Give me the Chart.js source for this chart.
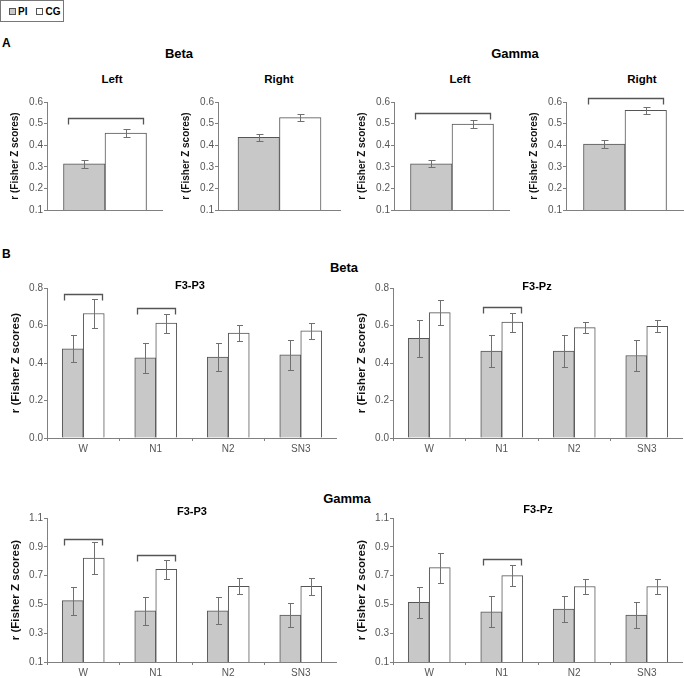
<!DOCTYPE html>
<html lang="en">
<head>
<meta charset="UTF-8">
<title>Fisher Z scores - Beta / Gamma</title>
<script src="https://cdn.jsdelivr.net/npm/chart.js@4.4.0/dist/chart.umd.min.js"></script>
<style>
    html, body { margin: 0; padding: 0; background: #fff; overflow: hidden; }
    body { position: relative; width: 684px; height: 678px; font-family: 'Liberation Sans', Arial, sans-serif; }
    canvas { position: absolute; }
    .lbl { position: absolute; transform: translate(-50%, -50%); font-weight: bold; white-space: nowrap; color: #000; }
    .letter { position: absolute; font-weight: bold; font-size: 12px; }
    .legend {
        position: absolute; left: 0; top: 0; width: 64px; height: 22px;
        border: 1px solid #777; font-size: 10px; font-weight: bold;
        display: flex; align-items: center; box-sizing: border-box; padding-left: 8px;
    }
    .sw { display: inline-block; width: 5px; height: 5px; border: 1px solid #555; margin-right: 2px; }
</style>
</head>
<body>
    <div class="legend"><span class="sw" style="background:#c8c8c8"></span>PI<span style="width:9px"></span><span class="sw"></span>CG</div>

    <div class="letter" style="left:2px; top:36px">A</div>
    <div class="letter" style="left:2px; top:247px">B</div>
    <div class="lbl" style="left:179px; top:53px; font-size:13px">Beta</div>
    <div class="lbl" style="left:515px; top:53px; font-size:13px">Gamma</div>
    <div class="lbl" style="left:344px; top:267px; font-size:13px">Beta</div>
    <div class="lbl" style="left:347px; top:498px; font-size:13px">Gamma</div>

    <div id="charts"></div>

<script>
    // ----- data -----
    const sideLabels = ['Left', 'Right'];
    const sideTicks = [0.1, 0.2, 0.3, 0.4, 0.5, 0.6];

    const betaSidePI = [0.314, 0.436];
    const betaSidePIErr = [0.018, 0.017];
    const betaSideCG = [0.456, 0.528];
    const betaSideCGErr = [0.017, 0.016];
    const betaSideBracket = [0.525, null];

    const gammaSidePI = [0.314, 0.405];
    const gammaSidePIErr = [0.017, 0.019];
    const gammaSideCG = [0.498, 0.561];
    const gammaSideCGErr = [0.017, 0.016];
    const gammaSideBracket = [0.548, 0.619];

    const stageLabels = ['W', 'N1', 'N2', 'SN3'];
    const betaTicks = [0.0, 0.2, 0.4, 0.6, 0.8];
    const gammaTicks = [0.1, 0.3, 0.5, 0.7, 0.9, 1.1];

    const betaP3PI = [0.476, 0.428, 0.432, 0.443];
    const betaP3PIErr = [0.073, 0.079, 0.077, 0.08];
    const betaP3CG = [0.664, 0.613, 0.56, 0.571];
    const betaP3CGErr = [0.08, 0.051, 0.042, 0.042];
    const betaP3Bracket = [0.77, 0.694, null, null];

    const betaPzPI = [0.531, 0.464, 0.464, 0.44];
    const betaPzPIErr = [0.098, 0.085, 0.083, 0.081];
    const betaPzCG = [0.669, 0.618, 0.589, 0.595];
    const betaPzCGErr = [0.069, 0.05, 0.029, 0.032];
    const betaPzBracket = [null, 0.697, null, null];

    const gammaP3PI = [0.526, 0.456, 0.456, 0.426];
    const gammaP3PIErr = [0.098, 0.097, 0.092, 0.083];
    const gammaP3CG = [0.822, 0.744, 0.625, 0.625];
    const gammaP3CGErr = [0.108, 0.067, 0.055, 0.06];
    const gammaP3Bracket = [0.956, 0.845, null, null];

    const gammaPzPI = [0.514, 0.449, 0.467, 0.426];
    const gammaPzPIErr = [0.108, 0.108, 0.09, 0.092];
    const gammaPzCG = [0.755, 0.70, 0.624, 0.624];
    const gammaPzCGErr = [0.103, 0.073, 0.052, 0.055];
    const gammaPzBracket = [null, 0.813, null, null];

    // ----- look -----
    const FONT = "'Liberation Sans', Arial, sans-serif";
    const axisGray = '#808080';
    const piFill = '#c8c8c8';
    const barEdge = '#555555';

    // error bars + significance brackets
    const errorBracketPlugin = {
        id: 'errorBrackets',
        afterDatasetsDraw(chart, args, opts) {
            const ctx = chart.ctx;
            const y = chart.scales.y;
            ctx.save();
            ctx.strokeStyle = '#707070';
            ctx.lineWidth = 1;
            chart.data.datasets.forEach((ds, i) => {
                chart.getDatasetMeta(i).data.forEach((bar, j) => {
                    const v = ds.data[j], e = ds.errors[j];
                    const x = Math.round(bar.x) + 0.5;
                    const yt = Math.round(y.getPixelForValue(v + e)) + 0.5;
                    const yb = Math.round(y.getPixelForValue(v - e)) + 0.5;
                    ctx.beginPath();
                    ctx.moveTo(x, yt); ctx.lineTo(x, yb);
                    ctx.moveTo(x - opts.cap, yt); ctx.lineTo(x + opts.cap + 1, yt);
                    ctx.moveTo(x - opts.cap, yb); ctx.lineTo(x + opts.cap + 1, yb);
                    ctx.stroke();
                });
            });
            const m0 = chart.getDatasetMeta(0), m1 = chart.getDatasetMeta(1);
            ctx.strokeStyle = '#555';
            ctx.lineWidth = 1.3;
            opts.brackets.forEach((b, j) => {
                if (b == null) return;
                const g = m0.data[j], w = m1.data[j];
                const x1 = Math.round(g.x - g.width / 2 + opts.inset) + 0.5;
                const x2 = Math.round(w.x + w.width / 2 - opts.inset) + 0.5;
                const yy = Math.round(y.getPixelForValue(b)) + 0.5;
                ctx.beginPath();
                ctx.moveTo(x1, yy + 6); ctx.lineTo(x1, yy); ctx.lineTo(x2, yy); ctx.lineTo(x2, yy + 6);
                ctx.stroke();
            });
            ctx.restore();
        }
    };

    function makeChart(p) {
        const canvas = document.createElement('canvas');
        canvas.width = p.box.w;
        canvas.height = p.box.h;
        canvas.style.left = p.box.x + 'px';
        canvas.style.top = p.box.y + 'px';
        document.getElementById('charts').appendChild(canvas);

        const t = document.createElement('div');
        t.className = 'lbl';
        t.textContent = p.title;
        t.style.left = p.titlePos[0] + 'px';
        t.style.top = p.titlePos[1] + 'px';
        t.style.fontSize = p.titleSize + 'px';
        document.body.appendChild(t);

        const yTicks = p.ticks;
        new Chart(canvas, {
            type: 'bar',
            data: {
                labels: p.labels,
                datasets: [
                    { label: 'PI', data: p.pi, errors: p.piErr, backgroundColor: piFill,
                      borderColor: barEdge, borderWidth: 1, barThickness: p.bar },
                    { label: 'CG', data: p.cg, errors: p.cgErr, backgroundColor: '#ffffff',
                      borderColor: barEdge, borderWidth: 1, barThickness: p.bar }
                ]
            },
            options: {
                responsive: false,
                animation: false,
                layout: { padding: { top: 10, bottom: p.showX ? 0 : 8, left: 0, right: 0 } },
                plugins: {
                    legend: { display: false },
                    tooltip: { enabled: false },
                    errorBrackets: { brackets: p.brackets, cap: p.cap, inset: p.inset }
                },
                scales: {
                    x: {
                        afterFit: s => { s.height = p.showX ? 22 : 0; },
                        border: { color: axisGray },
                        grid: { display: p.showX, drawOnChartArea: false, tickLength: 3, color: axisGray, offset: true },
                        ticks: { display: p.showX, padding: 2, color: '#555', font: { family: FONT, size: 10 } }
                    },
                    y: {
                        min: yTicks[0],
                        max: yTicks[yTicks.length - 1],
                        afterBuildTicks: s => { s.ticks = yTicks.map(v => ({ value: v })); },
                        afterFit: s => { s.width = 42; },
                        border: { color: axisGray },
                        grid: { drawOnChartArea: false, tickLength: 3, color: axisGray },
                        ticks: { padding: 1, color: '#555', font: { family: FONT, size: 10 },
                                 callback: v => Number(v).toFixed(1) },
                        title: { display: true, text: 'r (Fisher Z scores)', color: '#111',
                                 font: { family: FONT, size: p.axisTitleSize, weight: 'bold' },
                                 padding: { top: 4, bottom: 0 } }
                    }
                }
            },
            plugins: [errorBracketPlugin]
        });
    }

    const topCommon = { labels: [''], ticks: sideTicks, bar: 41.5, showX: false, cap: 3, inset: 4,
                        titleSize: 11.5, axisTitleSize: 10 };
    const botCommon = { labels: stageLabels, bar: 21, showX: true, cap: 2.5, inset: 2,
                        titleSize: 11, axisTitleSize: 11.5 };

    // Part A: one category per panel
    makeChart({ ...topCommon, title: sideLabels[0], titlePos: [112, 79], box: { x: 5, y: 92, w: 158, h: 126 },
        pi: [betaSidePI[0]], piErr: [betaSidePIErr[0]], cg: [betaSideCG[0]], cgErr: [betaSideCGErr[0]], brackets: [betaSideBracket[0]] });
    makeChart({ ...topCommon, title: sideLabels[1], titlePos: [279, 79], box: { x: 176, y: 92, w: 165, h: 126 },
        pi: [betaSidePI[1]], piErr: [betaSidePIErr[1]], cg: [betaSideCG[1]], cgErr: [betaSideCGErr[1]], brackets: [betaSideBracket[1]] });
    makeChart({ ...topCommon, title: sideLabels[0], titlePos: [460, 79], box: { x: 352, y: 92, w: 158, h: 126 },
        pi: [gammaSidePI[0]], piErr: [gammaSidePIErr[0]], cg: [gammaSideCG[0]], cgErr: [gammaSideCGErr[0]], brackets: [gammaSideBracket[0]] });
    makeChart({ ...topCommon, title: sideLabels[1], titlePos: [642, 79], box: { x: 524, y: 92, w: 160, h: 126 },
        pi: [gammaSidePI[1]], piErr: [gammaSidePIErr[1]], cg: [gammaSideCG[1]], cgErr: [gammaSideCGErr[1]], brackets: [gammaSideBracket[1]] });

    // Part B: sleep stages
    makeChart({ ...botCommon, title: 'F3-P3', titlePos: [190, 285], box: { x: 5, y: 278, w: 332, h: 182 }, ticks: betaTicks,
        pi: betaP3PI, piErr: betaP3PIErr, cg: betaP3CG, cgErr: betaP3CGErr, brackets: betaP3Bracket });
    makeChart({ ...botCommon, title: 'F3-Pz', titlePos: [537, 286], box: { x: 351, y: 278, w: 332, h: 182 }, ticks: betaTicks,
        pi: betaPzPI, piErr: betaPzPIErr, cg: betaPzCG, cgErr: betaPzCGErr, brackets: betaPzBracket });
    makeChart({ ...botCommon, title: 'F3-P3', titlePos: [192, 511], box: { x: 5, y: 508, w: 332, h: 176 }, ticks: gammaTicks,
        pi: gammaP3PI, piErr: gammaP3PIErr, cg: gammaP3CG, cgErr: gammaP3CGErr, brackets: gammaP3Bracket });
    makeChart({ ...botCommon, title: 'F3-Pz', titlePos: [538, 509], box: { x: 351, y: 508, w: 332, h: 176 }, ticks: gammaTicks,
        pi: gammaPzPI, piErr: gammaPzPIErr, cg: gammaPzCG, cgErr: gammaPzCGErr, brackets: gammaPzBracket });
</script>
</body>
</html>
